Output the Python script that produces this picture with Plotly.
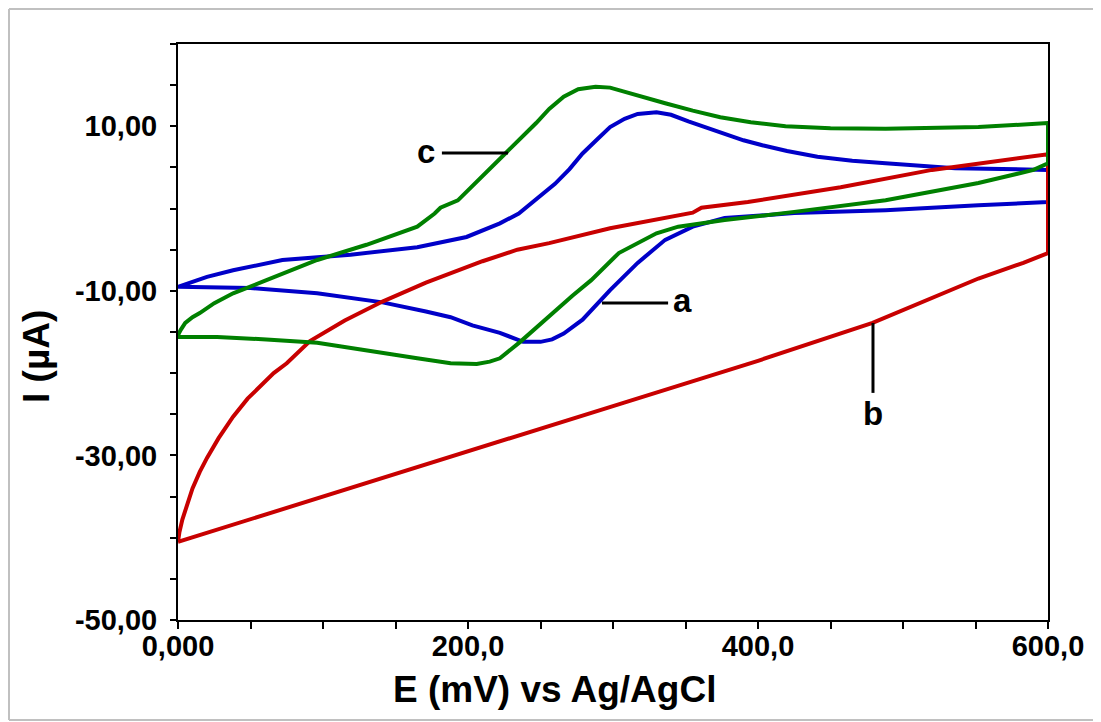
import plotly.graph_objects as go

# Curve a (blue): forward scan then reverse scan
a_E = [0, 20, 38, 72, 119, 165, 199, 222, 235, 248, 260, 270, 279, 289, 298, 308, 317, 330, 340, 352, 374, 390, 403, 420, 441, 465, 488, 536, 600,
       600, 552, 488, 425, 377, 355, 336, 317, 298, 279, 266, 258, 250, 238, 222, 203, 188, 171, 141, 96, 50, 0]
a_I = [-9.5, -8.3, -7.5, -6.25, -5.6, -4.7, -3.45, -1.8, -0.6, 1.3, 3.0, 4.8, 6.7, 8.4, 9.9, 10.9, 11.5, 11.7, 11.4, 10.6, 9.3, 8.3, 7.7, 7.0, 6.3, 5.8, 5.5, 4.9, 4.7,
       0.8, 0.4, -0.2, -0.55, -1.15, -2.2, -3.8, -6.6, -9.9, -13.5, -15.2, -15.9, -16.2, -16.2, -15.1, -14.2, -13.2, -12.5, -11.4, -10.3, -9.65, -9.5]

# Curve b (red)
b_E = [0, 1, 3, 6, 10, 15, 20, 28, 38, 48, 57, 66, 75, 91, 115, 141, 171, 188, 210, 234, 256, 298, 342, 355, 361, 393, 457, 520, 600,
       600, 583, 552, 479, 400, 300, 200, 100, 0]
b_I = [-40.5, -39.3, -37.8, -36.0, -34.0, -32.0, -30.3, -27.9, -25.3, -23.1, -21.5, -20.0, -18.8, -16.1, -13.6, -11.3, -9.0, -7.9, -6.4, -5.0, -4.2, -2.4, -1.0, -0.5, 0.1, 0.8, 2.6, 4.7, 6.6,
       -5.4, -6.6, -8.5, -13.9, -18.5, -24.0, -29.5, -35.0, -40.5]

# Curve c (green)
c_E = [0, 0.5, 2, 5, 10, 15, 25, 38, 61, 96, 130, 165, 177, 181, 193, 212, 228, 238, 247, 256, 266, 276, 288, 298, 310, 322, 336, 355, 374, 395, 419, 450, 488, 552, 600,
       600, 590, 552, 488, 425, 377, 345, 330, 304, 285, 272, 260, 248, 236, 222, 215, 206, 188, 165, 130, 96, 61, 27, 0]
c_I = [-15.6, -15.2, -14.7, -13.9, -13.2, -12.7, -11.5, -10.3, -8.7, -6.25, -4.4, -2.2, -0.6, 0.1, 1.0, 4.3, 7.1, 8.8, 10.4, 12.1, 13.6, 14.5, 14.8, 14.7, 14.1, 13.4, 12.8, 11.9, 11.1, 10.5, 10.0, 9.75, 9.7, 9.9, 10.4,
       5.5, 4.7, 3.1, 1.0, -0.4, -1.4, -2.2, -3.0, -5.4, -8.7, -10.6, -12.5, -14.3, -16.2, -18.2, -18.6, -18.9, -18.8, -18.2, -17.2, -16.3, -15.9, -15.6, -15.6]

x_tickvals = list(range(0, 601, 50))
x_ticktext = ["0,000" if v == 0 else ("%d,0" % v if v % 200 == 0 else "") for v in x_tickvals]
y_tickvals = list(range(-50, 21, 5))
y_ticktext = [("%d,00" % v) if v in (-50, -30, -10, 10) else "" for v in y_tickvals]

# page body has an 8px offset; compensate so plot area sits at x 178..1048, y 44..620 in the window
OFF = 8
L, R, T, B = 178 - OFF, 1048 - OFF, 44 - OFF, 620 - OFF
W, H = 1101, 722


def px(xw):
    return (xw - 178) / 870


def py(yw):
    return (620 - yw) / 576


fig = go.Figure()
fig.add_trace(go.Scatter(x=a_E, y=a_I, mode="lines", line=dict(color="#0000C8", width=4), name="a"))
fig.add_trace(go.Scatter(x=b_E, y=b_I, mode="lines", line=dict(color="#C80000", width=4), name="b"))
fig.add_trace(go.Scatter(x=c_E, y=c_I, mode="lines", line=dict(color="#008000", width=4), name="c"))

# leader lines
fig.add_shape(type="line", x0=182, x1=227.6, y0=6.75, y1=6.75, line=dict(color="black", width=3))
fig.add_shape(type="line", x0=292.4, x1=338, y0=-11.47, y1=-11.47, line=dict(color="black", width=3))
fig.add_shape(type="line", x0=479.3, x1=479.3, y0=-13.9, y1=-22.4, line=dict(color="black", width=3))

lab_font = dict(family="Liberation Sans, Arial", size=33, color="black", weight="bold")
fig.add_annotation(x=171, y=6.75, text="c", showarrow=False, font=lab_font, yshift=2)
fig.add_annotation(x=348, y=-11.47, text="a", showarrow=False, font=lab_font, yshift=2)
fig.add_annotation(x=479.3, y=-24.9, text="b", showarrow=False, font=lab_font)

# axis titles as annotations (placed like the reference)
fig.add_annotation(xref="paper", yref="paper", x=px(554), y=py(689), xanchor="center", yanchor="middle",
                   text="E (mV) vs Ag/AgCl", showarrow=False,
                   font=dict(family="Liberation Sans, Arial", size=37, color="black", weight="bold"))
fig.add_annotation(xref="paper", yref="paper", x=px(36), y=py(357), xanchor="center", yanchor="middle",
                   text="I (µA)", showarrow=False, textangle=-90,
                   font=dict(family="Liberation Sans, Arial", size=37, color="black", weight="bold"))

# light grey outer frame (kept just inside the figure so it is not clipped)
frame = dict(color="#C0C0C0", width=2)
fig.add_shape(type="line", xref="paper", yref="paper", x0=px(9), x1=px(9), y0=py(9), y1=py(720), line=frame)
fig.add_shape(type="line", xref="paper", yref="paper", x0=px(9), x1=px(1100), y0=py(9), y1=py(9), line=frame)
fig.add_shape(type="line", xref="paper", yref="paper", x0=px(9), x1=px(1100), y0=py(720), y1=py(720), line=frame)

tick_font = dict(family="Liberation Sans, Arial", size=29, color="black", weight="bold")
fig.update_layout(
    width=W, height=H,
    margin=dict(l=L, r=W - R, t=T, b=H - B),
    paper_bgcolor="white", plot_bgcolor="white",
    showlegend=False,
    xaxis=dict(range=[0, 600], tickvals=x_tickvals, ticktext=x_ticktext, ticks="outside", ticklen=7,
               tickwidth=2, tickcolor="black", showline=True, linecolor="black", linewidth=2, mirror=True,
               showgrid=False, zeroline=False, tickfont=tick_font, ticklabelstandoff=-8),
    yaxis=dict(range=[-50, 20], tickvals=y_tickvals, ticktext=y_ticktext, ticks="outside", ticklen=6,
               tickwidth=2, tickcolor="black", showline=True, linecolor="black", linewidth=2, mirror=True,
               showgrid=False, zeroline=False, tickfont=tick_font, ticklabelstandoff=7),
)

fig.write_html("out.html")
